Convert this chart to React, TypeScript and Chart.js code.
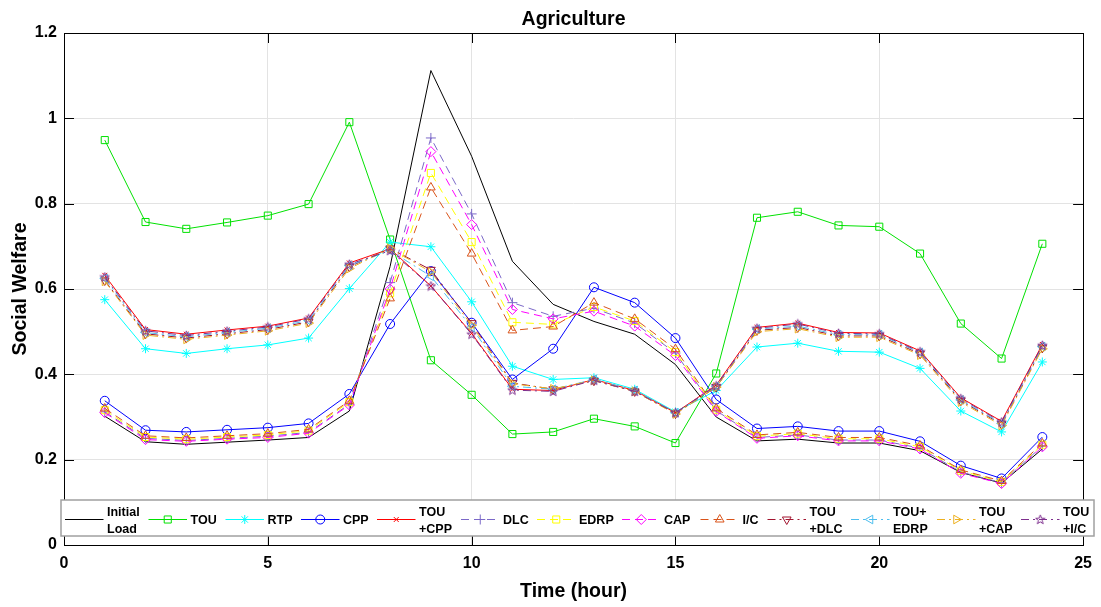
import React, { useEffect, useRef } from 'react';
import { Chart, registerables } from 'chart.js';
import { drawPoint } from 'chart.js/helpers';

Chart.register(...registerables);

// ---------------- data ----------------
const hours = [1, 2, 3, 4, 5, 6, 7, 8, 9, 10, 11, 12, 13, 14, 15, 16, 17, 18, 19, 20, 21, 22, 23, 24];
const xTickValues = [0, 5, 10, 15, 20, 25];
const yTickValues = [0, 0.2, 0.4, 0.6, 0.8, 1, 1.2];

const initialLoad = [0.302, 0.242, 0.236, 0.241, 0.246, 0.252, 0.314, 0.653, 1.112, 0.911, 0.665, 0.564, 0.524, 0.494, 0.423, 0.3, 0.244, 0.248, 0.239, 0.239, 0.221, 0.17, 0.145, 0.225];
const tou = [0.949, 0.757, 0.741, 0.756, 0.772, 0.799, 0.991, 0.716, 0.433, 0.352, 0.26, 0.265, 0.296, 0.278, 0.239, 0.402, 0.767, 0.781, 0.749, 0.746, 0.683, 0.519, 0.437, 0.706];
const rtp = [0.575, 0.46, 0.449, 0.46, 0.469, 0.485, 0.601, 0.71, 0.699, 0.57, 0.419, 0.388, 0.392, 0.365, 0.312, 0.362, 0.464, 0.473, 0.454, 0.452, 0.414, 0.314, 0.265, 0.429];
const cpp = [0.338, 0.269, 0.265, 0.27, 0.275, 0.285, 0.354, 0.518, 0.642, 0.521, 0.388, 0.46, 0.604, 0.568, 0.485, 0.341, 0.273, 0.278, 0.267, 0.267, 0.243, 0.186, 0.156, 0.253];
const touCpp = [0.632, 0.505, 0.494, 0.504, 0.513, 0.532, 0.661, 0.694, 0.607, 0.496, 0.365, 0.362, 0.388, 0.362, 0.31, 0.375, 0.51, 0.52, 0.498, 0.497, 0.455, 0.345, 0.29, 0.47];
const dlc = [0.312, 0.25, 0.245, 0.25, 0.255, 0.264, 0.33, 0.615, 0.954, 0.776, 0.568, 0.536, 0.555, 0.52, 0.45, 0.315, 0.252, 0.258, 0.246, 0.246, 0.227, 0.171, 0.146, 0.232];
const edrp = [0.316, 0.253, 0.248, 0.253, 0.258, 0.268, 0.335, 0.59, 0.872, 0.71, 0.522, 0.517, 0.558, 0.525, 0.452, 0.317, 0.255, 0.261, 0.249, 0.249, 0.23, 0.174, 0.148, 0.235];
const cap = [0.31, 0.247, 0.243, 0.248, 0.252, 0.262, 0.328, 0.6, 0.922, 0.751, 0.552, 0.53, 0.548, 0.513, 0.444, 0.313, 0.25, 0.256, 0.244, 0.244, 0.225, 0.168, 0.144, 0.23];
const ic = [0.32, 0.256, 0.251, 0.256, 0.261, 0.271, 0.338, 0.578, 0.838, 0.683, 0.503, 0.512, 0.568, 0.53, 0.459, 0.32, 0.258, 0.264, 0.252, 0.252, 0.233, 0.176, 0.15, 0.238];
const touDlc = [0.62, 0.495, 0.485, 0.495, 0.505, 0.523, 0.652, 0.695, 0.645, 0.52, 0.38, 0.365, 0.385, 0.36, 0.308, 0.37, 0.503, 0.51, 0.49, 0.49, 0.448, 0.338, 0.283, 0.462];
const touEdrp = [0.625, 0.498, 0.488, 0.498, 0.508, 0.526, 0.655, 0.69, 0.63, 0.51, 0.372, 0.365, 0.388, 0.362, 0.31, 0.372, 0.506, 0.513, 0.493, 0.493, 0.451, 0.34, 0.285, 0.465];
const touCap = [0.618, 0.492, 0.482, 0.492, 0.502, 0.52, 0.648, 0.695, 0.64, 0.515, 0.378, 0.366, 0.386, 0.36, 0.307, 0.37, 0.5, 0.507, 0.487, 0.487, 0.445, 0.335, 0.28, 0.46];
const touIc = [0.628, 0.502, 0.491, 0.501, 0.511, 0.53, 0.658, 0.69, 0.607, 0.494, 0.363, 0.36, 0.386, 0.36, 0.31, 0.373, 0.508, 0.518, 0.496, 0.495, 0.453, 0.343, 0.288, 0.468];

const FONT = "'Liberation Sans', Arial, Helvetica, sans-serif";
const SOLID: number[] = [];
const DASH = [8, 5];
const DASHDOT = [8, 4, 2, 4];

function makePentagram(color: string): HTMLCanvasElement {
  const c = document.createElement('canvas');
  c.width = 11;
  c.height = 11;
  const g = c.getContext('2d')!;
  g.strokeStyle = color;
  g.lineWidth = 1;
  g.beginPath();
  const cx = 5.5, cy = 5.8, ro = 4.9, ri = 2.0;
  for (let k = 0; k < 10; k++) {
    const r = k % 2 === 0 ? ro : ri;
    const a = -Math.PI / 2 + (k * Math.PI) / 5;
    const px = cx + r * Math.cos(a);
    const py = cy + r * Math.sin(a);
    if (k === 0) g.moveTo(px, py); else g.lineTo(px, py);
  }
  g.closePath();
  g.stroke();
  return c;
}

type Series = {
  label: string[];
  data: number[];
  color: string;
  dash: number[];
  style: any;
  radius: number;
  rotation?: number;
};

function buildSeries(): Series[] {
  return [
    { label: ['Initial', 'Load'], data: initialLoad, color: '#000000', dash: SOLID, style: false, radius: 0 },
    { label: ['TOU'], data: tou, color: 'rgb(0,225,0)', dash: SOLID, style: 'rect', radius: 5 },
    { label: ['RTP'], data: rtp, color: '#00ffff', dash: SOLID, style: 'star', radius: 4.5 },
    { label: ['CPP'], data: cpp, color: '#0000ff', dash: SOLID, style: 'circle', radius: 4.5 },
    { label: ['TOU', '+CPP'], data: touCpp, color: '#ff0000', dash: SOLID, style: 'crossRot', radius: 3.5 },
    { label: ['DLC'], data: dlc, color: '#7b68c8', dash: DASH, style: 'cross', radius: 5 },
    { label: ['EDRP'], data: edrp, color: '#ffff00', dash: DASH, style: 'rect', radius: 5 },
    { label: ['CAP'], data: cap, color: '#ff00ff', dash: DASH, style: 'rectRot', radius: 5 },
    { label: ['I/C'], data: ic, color: '#D95319', dash: DASH, style: 'triangle', radius: 5 },
    { label: ['TOU', '+DLC'], data: touDlc, color: '#A2142F', dash: DASHDOT, style: 'triangle', radius: 5, rotation: 180 },
    { label: ['TOU+', 'EDRP'], data: touEdrp, color: '#4DBEEE', dash: DASHDOT, style: 'triangle', radius: 5, rotation: 270 },
    { label: ['TOU', '+CAP'], data: touCap, color: '#EDB120', dash: DASHDOT, style: 'triangle', radius: 5, rotation: 90 },
    { label: ['TOU', '+I/C'], data: touIc, color: '#7E2F8E', dash: DASHDOT, style: 'pentagram', radius: 5 },
  ];
}

// legend layout (line sample start x for each entry)
const legendLineStarts = [65, 148.5, 225.5, 301, 377, 461, 537, 622, 700.5, 767.5, 851, 937, 1021];
const LEGEND_LINE_LEN = 38.5;

export default function App() {
  const ref = useRef<HTMLCanvasElement | null>(null);

  useEffect(() => {
    if (!ref.current) return;
    const series = buildSeries();
    const star = makePentagram('#7E2F8E');
    series.forEach((s) => {
      if (s.style === 'pentagram') s.style = star;
    });

    const decor = {
      id: 'decor',
      afterDraw(chart: any) {
        const { ctx, chartArea } = chart;
        const { left, right, top, bottom } = chartArea;
        const xs = chart.scales.x;
        const ys = chart.scales.y;
        ctx.save();
        ctx.strokeStyle = '#000';
        ctx.lineWidth = 1;
        ctx.setLineDash([]);
        const TL = 10;
        ctx.beginPath();
        xTickValues.forEach((v) => {
          const px = Math.round(xs.getPixelForValue(v)) + 0.5;
          ctx.moveTo(px, bottom);
          ctx.lineTo(px, bottom - TL);
          ctx.moveTo(px, top);
          ctx.lineTo(px, top + TL);
        });
        yTickValues.forEach((v) => {
          const py = Math.round(ys.getPixelForValue(v)) + 0.5;
          ctx.moveTo(left, py);
          ctx.lineTo(left + TL, py);
          ctx.moveTo(right, py);
          ctx.lineTo(right - TL, py);
        });
        ctx.stroke();
        ctx.strokeRect(Math.round(left) + 0.5, Math.round(top) + 0.5, Math.round(right - left), Math.round(bottom - top));

        // legend
        const bx0 = 61, by0 = 500, bx1 = 1094, by1 = 536;
        ctx.fillStyle = '#ffffff';
        ctx.fillRect(bx0, by0, bx1 - bx0, by1 - by0);
        ctx.strokeStyle = '#a0a0a0';
        ctx.lineWidth = 1.5;
        ctx.strokeRect(bx0, by0, bx1 - bx0, by1 - by0);
        const ly = 519;
        series.forEach((s, i) => {
          const x0 = legendLineStarts[i];
          const x1 = x0 + LEGEND_LINE_LEN;
          ctx.strokeStyle = s.color;
          ctx.lineWidth = 1;
          ctx.setLineDash(s.dash);
          ctx.beginPath();
          ctx.moveTo(x0, ly + 0.5);
          ctx.lineTo(x1, ly + 0.5);
          ctx.stroke();
          ctx.setLineDash([]);
          if (s.style) {
            ctx.fillStyle = 'rgba(0,0,0,0)';
            ctx.strokeStyle = s.color;
            ctx.lineWidth = 1;
            drawPoint(ctx, { pointStyle: s.style, rotation: s.rotation || 0, radius: s.radius, borderWidth: 1 } as any, (x0 + x1) / 2, ly + 0.5);
          }
          ctx.fillStyle = '#000';
          ctx.font = `bold 12.5px ${FONT}`;
          ctx.textAlign = 'left';
          ctx.textBaseline = 'alphabetic';
          const tx = x1 + 3.5;
          if (s.label.length === 1) {
            ctx.fillText(s.label[0], tx, 523.5);
          } else {
            ctx.fillText(s.label[0], tx, 516);
            ctx.fillText(s.label[1], tx, 533);
          }
        });

        // titles
        const cx = (left + right) / 2;
        ctx.fillStyle = '#000';
        ctx.font = `bold 19.5px ${FONT}`;
        ctx.textAlign = 'center';
        ctx.textBaseline = 'alphabetic';
        ctx.fillText('Agriculture', cx, 25);
        ctx.fillText('Time (hour)', cx, 597);
        ctx.save();
        ctx.translate(26, (top + bottom) / 2);
        ctx.rotate(-Math.PI / 2);
        ctx.fillText('Social Welfare', 0, 0);
        ctx.restore();
        ctx.restore();
      },
    };

    const chart = new Chart(ref.current, {
      type: 'line',
      data: {
        datasets: series.map((s, i) => ({
          label: s.label.join(' '),
          data: hours.map((h, j) => ({ x: h, y: s.data[j] })),
          borderColor: s.color,
          backgroundColor: 'rgba(0,0,0,0)',
          borderWidth: 1,
          borderDash: s.dash,
          pointStyle: s.style,
          pointRadius: s.style ? s.radius : 0,
          pointRotation: s.rotation || 0,
          pointBorderColor: s.color,
          pointBackgroundColor: 'rgba(0,0,0,0)',
          pointBorderWidth: 1,
          tension: 0,
          fill: false,
          order: series.length - i,
        })),
      },
      options: {
        animation: false,
        responsive: false,
        devicePixelRatio: 1,
        events: [],
        layout: { padding: { top: 33, right: 12, left: 0, bottom: 0 } },
        plugins: {
          legend: { display: false },
          title: { display: false },
          tooltip: { enabled: false },
        },
        scales: {
          x: {
            type: 'linear',
            min: 0,
            max: 25,
            afterBuildTicks: (scale: any) => {
              scale.ticks = xTickValues.map((v) => ({ value: v }));
            },
            afterFit: (scale: any) => {
              scale.height = 62;
            },
            ticks: {
              font: { family: FONT, size: 16, weight: 'bold' },
              color: '#000',
              padding: 9,
              maxRotation: 0,
              callback: (v: any) => String(v),
            },
            grid: { color: '#e3e3e3', drawTicks: false, lineWidth: 1 },
            border: { display: false },
          },
          y: {
            type: 'linear',
            min: 0,
            max: 1.2,
            afterBuildTicks: (scale: any) => {
              scale.ticks = yTickValues.map((v) => ({ value: v }));
            },
            afterFit: (scale: any) => {
              scale.width = 64;
            },
            ticks: {
              font: { family: FONT, size: 16, weight: 'bold' },
              color: '#000',
              padding: 7,
              callback: (v: any) => String(+Number(v).toFixed(1)),
            },
            grid: { color: '#e3e3e3', drawTicks: false, lineWidth: 1 },
            border: { display: false },
          },
        },
      } as any,
      plugins: [decor],
    });
    return () => chart.destroy();
  }, []);

  return (
    <div style={{ position: 'absolute', left: 0, top: 0, width: 1101, height: 607, background: '#fff' }}>
      <canvas ref={ref} width={1101} height={607} style={{ display: 'block' }} />
    </div>
  );
}
